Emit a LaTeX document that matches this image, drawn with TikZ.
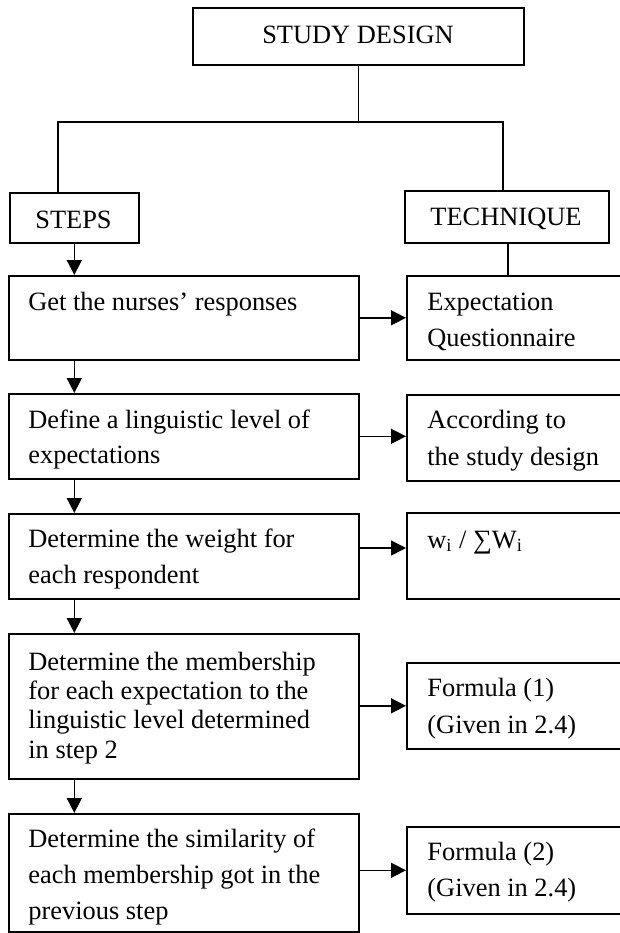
\documentclass[tikz,border=0pt]{standalone}
\usepackage{fontspec}
\setmainfont{Liberation Serif}
\usetikzlibrary{arrows.meta}
\newcommand\mlines[2][18]{{\fontsize{13.2}{#1}\selectfont\begin{tabular}[t]{@{}l@{}}#2\end{tabular}}}
\tikzset{
  box/.style={draw, line width=0.8pt, inner sep=0pt, anchor=north west},
  txt/.style={anchor=base west, inner sep=0pt, font=\fontsize{13.2}{18}\selectfont},
  ctxt/.style={anchor=base, inner sep=0pt, font=\fontsize{13.2}{18}\selectfont},
  conn/.style={line width=0.75pt},
  arr/.style={line width=0.75pt, -{Triangle[length=7.5pt,width=7.5pt]}}
}
\begin{document}
\begin{tikzpicture}[x=0.5pt,y=-0.5pt]
\useasboundingbox (0,0) rectangle (620,933);
\clip (0,0) rectangle (620,933);
% boxes
\node[box, minimum width=165.5pt, minimum height=28.5pt] (sd) at (192,7) {};
\node[box, minimum width=64.5pt, minimum height=25pt] (steps) at (9,192) {};
\node[box, minimum width=102pt, minimum height=26pt] (tech) at (404,190) {};
\node[box, minimum width=175pt, minimum height=42pt] (s1) at (8,275) {};
\node[box, minimum width=112pt, minimum height=42pt] (t1) at (406,275) {};
\node[box, minimum width=175pt, minimum height=42.5pt] (s2) at (8,393) {};
\node[box, minimum width=112pt, minimum height=43pt] (t2) at (406,394) {};
\node[box, minimum width=175pt, minimum height=42.5pt] (s3) at (8,513) {};
\node[box, minimum width=112pt, minimum height=43pt] (t3) at (406,512) {};
\node[box, minimum width=175pt, minimum height=72.5pt] (s4) at (8,633) {};
\node[box, minimum width=112pt, minimum height=43pt] (t4) at (406,662) {};
\node[box, minimum width=175pt, minimum height=59pt] (s5) at (8,813) {};
\node[box, minimum width=112pt, minimum height=43.5pt] (t5) at (406,826) {};
% texts
\node[ctxt] (sdt) at (358,43) {STUDY DESIGN};
\node[ctxt] (stepst) at (73.5,228) {STEPS};
\node[ctxt] (techt) at (506,225) {TECHNIQUE};
\node[txt] (s1t) at (28,310) {\mlines{Get the nurses’ responses}};
\node[txt] (t1t) at (427,310) {\mlines{Expectation\\Questionnaire}};
\node[txt] (s2t) at (28,428) {\mlines[17.5]{Define a linguistic level of\\expectations}};
\node[txt] (t2t) at (427,428) {\mlines[18.5]{According to\\the study design}};
\node[txt] (s3t) at (28,547) {\mlines{Determine the weight for\\each respondent}};
\node[txt] (t3t) at (427,548) {\mlines{w\textsubscript{i} / ∑W\textsubscript{i}}};
\node[txt] (s4t) at (28,670) {\mlines[14.7]{Determine the membership\\for each expectation to the\\linguistic level determined\\in step 2}};
\node[txt] (t4t) at (427,696) {\mlines[18.5]{Formula (1)\\(Given in 2.4)}};
\node[txt] (s5t) at (28,847) {\mlines{Determine the similarity of\\each membership got in the\\previous step}};
\node[txt] (t5t) at (427,860) {\mlines{Formula (2)\\(Given in 2.4)}};
% connectors
\coordinate (jl) at (58,122);
\coordinate (jr) at (503,122);
\draw[conn] (sd.south) -- (sd.south |- jl);
\draw[conn] (steps.north -| jl) -- (jl) -- (jr) -- (tech.north -| jr);
\draw[conn] (tech.south -| 508,0) -- (t1.north -| 508,0);
\draw[arr] (steps.south) -- (steps.south |- s1.north);
\draw[arr] (s1.south -| steps.south) -- (steps.south |- s2.north);
\draw[arr] (s2.south -| steps.south) -- (steps.south |- s3.north);
\draw[arr] (s3.south -| steps.south) -- (steps.south |- s4.north);
\draw[arr] (s4.south -| steps.south) -- (steps.south |- s5.north);
\draw[arr] (s1.east) -- (t1.west);
\draw[arr] (s2.east) -- (t2.west |- s2.east);
\draw[arr] (s3.east |- 0,548) -- (t3.west |- 0,548);
\draw[arr] (s4.east |- t4.west) -- (t4.west);
\draw[arr] (s5.east |- t5.west) -- (t5.west);
\end{tikzpicture}
\end{document}
